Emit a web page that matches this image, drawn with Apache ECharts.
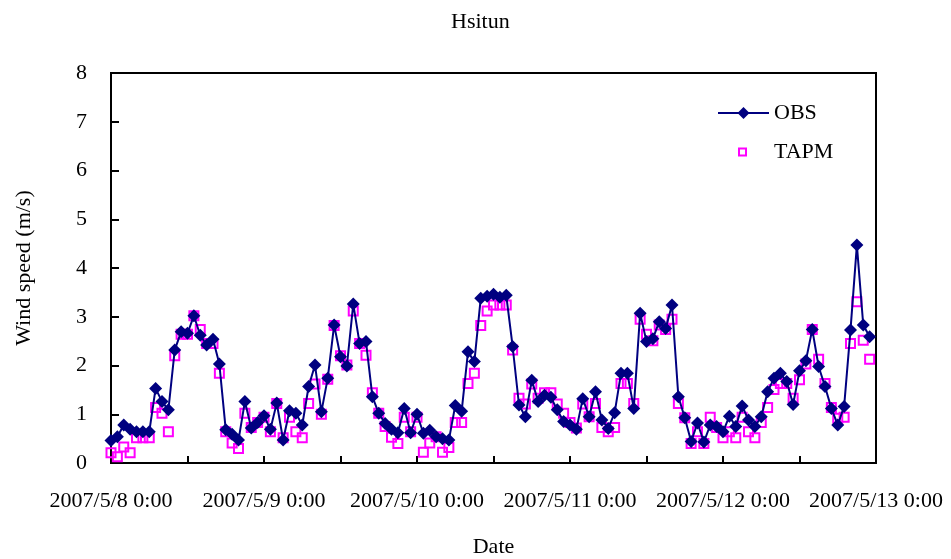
<!DOCTYPE html>
<html>
<head>
<meta charset="utf-8">
<script src="https://cdn.jsdelivr.net/npm/echarts@6/dist/echarts.min.js"></script>
<style>
html,body{margin:0;padding:0;background:#fff;}
#chart{width:951px;height:559px;}
</style>
</head>
<body>
<div id="chart"></div>
<script>
// Hourly observations from 2007/5/8 0:00 to 2007/5/12 23:00
const obs = [
  0.46,0.54,0.78,0.69,0.64,0.64,0.64,1.53,1.26,1.09,2.32,2.69,2.66,3.02,2.62,2.42,2.54,2.03,0.68,0.59,0.47,1.26,0.72,0.83,
  0.97,0.69,1.23,0.47,1.07,1.02,0.78,1.57,2.01,1.05,1.74,2.83,2.18,1.99,3.26,2.45,2.49,1.36,1.02,0.81,0.69,0.62,1.12,0.62,
  1.00,0.61,0.67,0.54,0.50,0.47,1.18,1.06,2.28,2.08,3.38,3.42,3.46,3.40,3.44,2.39,1.19,0.95,1.70,1.26,1.39,1.35,1.09,0.85,
  0.78,0.69,1.32,0.95,1.46,0.88,0.71,1.03,1.84,1.84,1.12,3.07,2.49,2.55,2.90,2.76,3.24,1.36,0.93,0.44,0.82,0.43,0.78,0.75,
  0.64,0.96,0.75,1.17,0.88,0.75,0.95,1.46,1.74,1.84,1.67,1.20,1.89,2.10,2.74,1.98,1.57,1.12,0.78,1.16,2.73,4.47,2.83,2.59
];
const tapm = [
  0.21,0.13,0.33,0.21,0.52,0.52,0.52,1.14,1.02,0.64,2.20,2.64,2.64,3.02,2.74,2.45,2.45,1.84,0.64,0.41,0.30,1.02,0.73,0.83,
  0.94,0.64,1.22,0.52,0.94,0.64,0.52,1.22,1.62,1.00,1.72,2.82,2.20,2.01,3.12,2.45,2.21,1.44,1.02,0.75,0.53,0.40,0.94,0.64,
  0.94,0.22,0.41,0.54,0.22,0.32,0.83,0.83,1.63,1.84,2.82,3.12,3.24,3.24,3.24,2.32,1.33,1.21,1.62,1.33,1.44,1.44,1.21,1.02,
  0.83,0.72,1.21,0.95,1.22,0.73,0.64,0.73,1.63,1.63,1.22,2.95,2.64,2.51,2.83,2.74,2.95,1.22,0.93,0.40,0.64,0.40,0.94,0.73,
  0.52,0.64,0.52,0.94,0.64,0.52,0.83,1.14,1.51,1.63,1.63,1.33,1.71,2.03,2.74,2.13,1.63,1.14,0.92,0.94,2.45,3.31,2.52,2.13
];
const dayLabels = ['2007/5/8 0:00','2007/5/9 0:00','2007/5/10 0:00','2007/5/11 0:00','2007/5/12 0:00','2007/5/13 0:00'];
const yTicks = [0,1,2,3,4,5,6,7,8];

const FONT = 'Liberation Serif';
const obsData = obs.map((v, i) => [i, v]);
const tapmData = tapm.map((v, i) => [i, v]);

const chart = echarts.init(document.getElementById('chart'), null, {renderer: 'canvas'});
chart.setOption({
  animation: false,
  backgroundColor: '#fff',
  title: {
    text: 'Hsitun', left: 446, top: 6,
    textStyle: {fontFamily: FONT, fontSize: 22, fontWeight: 'normal', color: '#000'}
  },
  legend: [
    {
      data: ['OBS'], orient: 'vertical', left: 717, top: 102, padding: 0,
      itemWidth: 51, itemHeight: 15,
      textStyle: {fontFamily: FONT, fontSize: 22, color: '#000'}
    },
    {
      data: [{name: 'TAPM', icon: 'rect',
              itemStyle: {color: '#fff', borderColor: '#FF00FF', borderWidth: 2}}],
      orient: 'vertical', left: 738, top: 141, padding: 0,
      itemWidth: 7, itemHeight: 7,
      textStyle: {fontFamily: FONT, fontSize: 22, color: '#000', padding: [0, 0, 0, 23]}
    }
  ],
  grid: {
    left: 111, right: 75, top: 73, bottom: 96,
    containLabel: false, outerBoundsMode: 'none',
    show: true, borderColor: '#000', borderWidth: 2, backgroundColor: 'transparent'
  },
  xAxis: {
    type: 'value', min: 0, max: 120, interval: 12,
    name: 'Date', nameLocation: 'middle', nameGap: 73,
    nameTextStyle: {fontFamily: FONT, fontSize: 22, color: '#000'},
    axisLine: {show: true, lineStyle: {color: '#000', width: 2}},
    axisTick: {show: true, inside: true, length: 7, lineStyle: {color: '#000', width: 2}},
    splitLine: {show: false},
    axisLabel: {
      fontFamily: FONT, fontSize: 22, color: '#000', margin: 27,
      formatter: v => (v % 24 === 0 ? dayLabels[v / 24] : '')
    }
  },
  yAxis: {
    type: 'value', min: yTicks[0], max: yTicks[yTicks.length - 1], interval: 1,
    name: 'Wind speed (m/s)', nameLocation: 'middle', nameGap: 76, nameRotate: 90,
    nameTextStyle: {fontFamily: FONT, fontSize: 22, color: '#000'},
    axisLine: {show: true, lineStyle: {color: '#000', width: 2}},
    axisTick: {show: true, inside: true, length: 8, lineStyle: {color: '#000', width: 2}},
    splitLine: {show: false},
    axisLabel: {fontFamily: FONT, fontSize: 22, color: '#000', margin: 24}
  },
  series: [
    {
      name: 'OBS', type: 'line', data: obsData,
      symbol: 'diamond', symbolSize: 13, showAllSymbol: true,
      lineStyle: {color: '#000080', width: 2},
      itemStyle: {color: '#000080'}
    },
    {
      name: 'TAPM', type: 'scatter', data: tapmData,
      symbol: 'rect', symbolSize: 9,
      itemStyle: {color: 'rgba(255,255,255,0)', borderColor: '#FF00FF', borderWidth: 2, opacity: 1}
    }
  ]
});
</script>
</body>
</html>
